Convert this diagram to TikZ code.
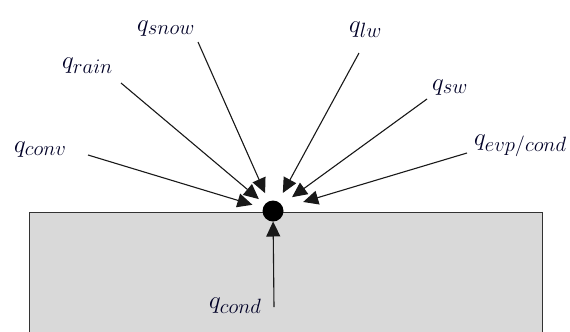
\documentclass[tikz,border=0pt]{standalone}
\usetikzlibrary{arrows.meta}
\begin{document}
\begin{tikzpicture}[x=1bp,y=-1bp,
  lbl/.style={anchor=base west,inner sep=0pt,font=\fontsize{28}{32}\selectfont,text=black!85!blue},
  flux/.style={line width=1.1bp,draw=black!90,-{Triangle[length=15bp,width=14bp]}},
  dotnode/.style={circle,fill=black,minimum size=21bp,inner sep=0pt,outer sep=0pt}]
\useasboundingbox (0,0) rectangle (570,331);
\draw[fill=black!15,draw=black!80,line width=1bp] (29,340) -- (29,212) -- (542,212) -- (542,340);
\node[dotnode] (dot) at (273,211) {};
% labels
\node[lbl] (snow) at (137,31) {$q_{snow}$};
\node[lbl] (rain) at (62,68) {$q_{rain}$};
\node[lbl] (conv) at (14,152) {$q_{conv}$};
\node[lbl] (lw) at (349,32) {$q_{lw}$};
\node[lbl] (sw) at (432,90) {$q_{sw}$};
\node[lbl] (evp) at (474,145) {$q_{evp/cond}$};
\node[lbl] (cond) at (209,308) {$q_{cond}$};
% line start points
\coordinate (sconv) at (88,155);
\coordinate (srain) at (121,83);
\coordinate (ssnow) at (198,42);
\coordinate (slw) at (359,53);
\coordinate (ssw) at (427,99);
\coordinate (sevp) at (467,153);
\coordinate (scond) at (274,307);
\draw[flux,shorten >=11bp] (sconv) -- (dot);
\draw[flux,shorten >=8bp] (srain) -- (dot);
\draw[flux,shorten >=9bp] (ssnow) -- (dot);
\draw[flux,shorten >=10bp] (slw) -- (dot);
\draw[flux,shorten >=13bp] (ssw) -- (dot);
\draw[flux,shorten >=21bp] (sevp) -- (dot);
\draw[flux] (scond) -- (dot);
\end{tikzpicture}
\end{document}
